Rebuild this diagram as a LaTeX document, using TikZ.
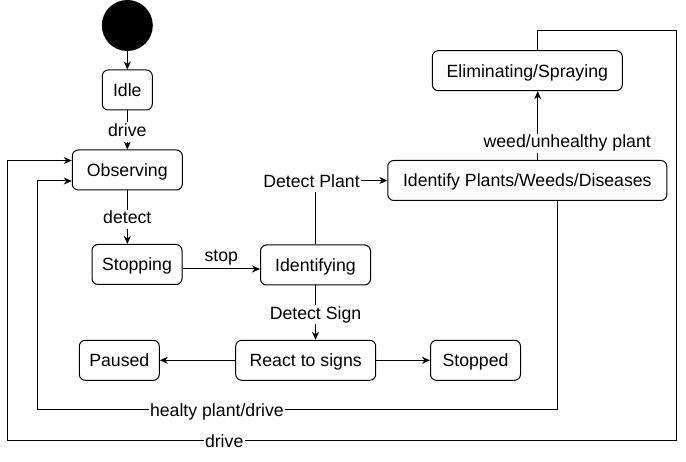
\documentclass[tikz,border=0pt]{standalone}
\usepackage{fontspec}
\setmainfont{Liberation Sans}
\usetikzlibrary{arrows.meta}

\tikzset{
  state/.style={draw, rounded corners=6pt, line width=1pt, minimum height=40pt,
    inner sep=0pt, text height=12.7pt, text depth=0pt, font=\fontsize{17.7}{20}\selectfont},
  trans/.style={line width=1pt, -{Stealth[length=8pt,width=7pt,inset=2.5pt]}},
  lbl/.style={fill=white, inner sep=1.5pt, text height=12.7pt, text depth=3.6pt,
    yshift=-2pt, font=\fontsize{17.7}{20}\selectfont}
}

\begin{document}
\begin{tikzpicture}[x=1pt,y=-1pt]
    \useasboundingbox (0,0) rectangle (686,462);
    \node[circle, fill=black, minimum size=51pt, inner sep=0pt] (init) at (127.3,25.5) {};
    \node[state, minimum width=50pt]  (idle)     at (127.3,90)    {Idle};
    \node[state, minimum width=110pt] (observe)  at (127.3,170)   {Observing};
    \node[state, minimum width=90pt]  (stopping) at (137,264.5)   {Stopping};
    \node[state, minimum width=110pt] (ident)    at (315.5,265)   {Identifying};
    \node[state, minimum width=279pt] (classify) at (527.3,180.5) {Identify Plants/Weeds/Diseases};
    \node[state, minimum width=190pt] (spray)    at (527.3,70.7)  {Eliminating/Spraying};
    \node[state, minimum width=140pt] (react)    at (305.7,360.3) {React to signs};
    \node[state, minimum width=80pt]  (paused)   at (119.3,360.3) {Paused};
    \node[state, minimum width=90pt]  (stopped)  at (475.5,360.3) {Stopped};
    \coordinate (outtop) at (676.7,30.5);
    \coordinate (outbot) at (7.3,440.5);
    \coordinate (inbot)  at (37,410);
    \draw[trans] (init) -- (idle);  % init -- idle
    \draw[trans] (idle) -- node[lbl]{drive} (observe);  % idle -- observing
    \draw[trans] (observe) -- node[lbl]{detect} (observe.south |- stopping.north);  % observing -- stopping
    \draw[trans] ([yshift=-4.5pt]stopping.east) -- node[midway, above=2pt, inner sep=1pt, text height=12.7pt, text depth=3.6pt, font=\fontsize{17.7}{20}\selectfont]{stop} ([yshift=-4.5pt]stopping.east -| ident.west);  % stopping -- identifying
    \draw[trans] (ident.north) |- node[lbl, pos=0.5, xshift=-4pt]{Detect Plant} (classify.west);  % identifying -- classify
    \draw[trans] ([xshift=10.4pt]classify.north) -- node[lbl, pos=0.27, xshift=29.5pt]{weed/unhealthy plant} ([xshift=10.4pt]classify.north |- spray.south);  % classify -- spraying
    \draw[trans] (ident) -- node[lbl]{Detect Sign} (ident.south |- react.north);  % identifying -- react
    \draw[trans] (react) -- (paused);  % react -- paused
    \draw[trans] (react) -- (stopped);  % react -- stopped
    \draw[trans] ([xshift=29.7pt]classify.south) |- node[lbl, pos=0.827]{healty plant/drive} (inbot) |- ([yshift=-11pt]observe.west);  % classify -- observing
    \draw[trans] ([xshift=10.4pt]spray.north) |- (outtop) |- node[lbl, pos=0.838]{drive} (outbot) |- ([yshift=9.5pt]observe.west);  % spraying -- observing
  \end{tikzpicture}
\end{document}
